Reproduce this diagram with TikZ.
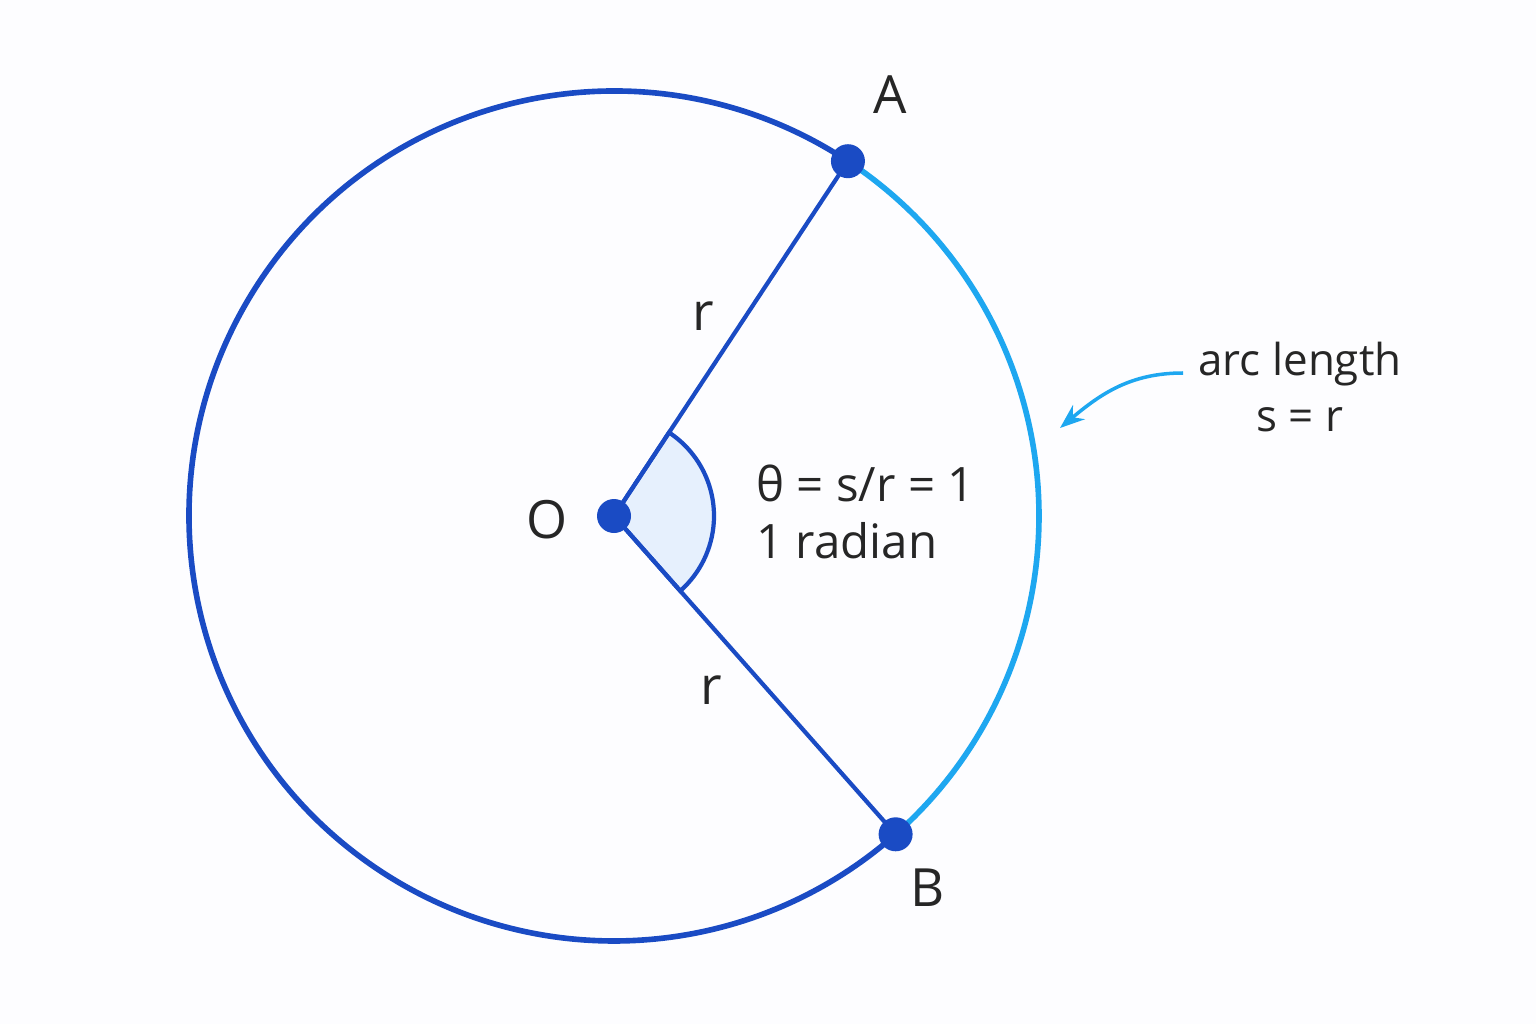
\documentclass[tikz,border=0pt]{standalone}
\usepackage{fontspec}
\setmainfont{Open Sans}
\usetikzlibrary{arrows.meta,calc}
\definecolor{darkblue}{HTML}{1A4BC4}
\definecolor{skyblue}{HTML}{1EA7F0}
\definecolor{wedgefill}{HTML}{E6F0FD}
\tikzset{
  pt/.style = {circle, fill=darkblue, inner sep=0pt, minimum size=0.34cm},
  lbl/.style = {font=\fontsize{15}{18}\selectfont, text=black!85},
  note/.style = {font=\fontsize{12.5}{16}\selectfont, text=black!85, align=center}
}
\begin{document}
\begin{tikzpicture}
\useasboundingbox (0,0) rectangle (15.36,10.24);
\fill[white!97!blue!30!white] (0,0) rectangle (15.36,10.24);
% Place points
\coordinate (center) at (6.14,5.08);
\coordinate (pa) at ($(center)+(56.6:4.25)$);
\coordinate (pb) at ($(center)+(-48.5:4.25)$);
% Draw circle and arc
\draw[darkblue, line width=1.6pt] (pa) arc[start angle=56.6, end angle=311.5, radius=4.25];
\draw[skyblue, line width=1.6pt] (pa) arc[start angle=56.6, end angle=-48.5, radius=4.25];
% Draw wedge and radii
\filldraw[fill=wedgefill, draw=darkblue, line width=1.2pt] (center) -- ($(center)+(56.6:1)$) arc[start angle=56.6, end angle=-48.5, radius=1] -- cycle;
\draw[darkblue, line width=1.2pt] (center) -- (pa);
\draw[darkblue, line width=1.2pt] (center) -- (pb);
\node[pt] (O) at (center) {};
\node[pt] (A) at (pa) {};
\node[pt] (B) at (pb) {};
% Labels
\node[lbl] at (8.90,9.29) {A};
\node[lbl] at (9.28,1.36) {B};
\node[lbl] at (5.47,5.04) {O};
\node[lbl] at (7.03,7.08) {r};
\node[lbl] at (7.11,3.34) {r};
\node[note, anchor=west, align=left, font=\fontsize{13.5}{16}\selectfont] (theta) at (7.44,5.12) {θ = s/r = 1\\1 radian};
\node[note] (arcnote) at (13.0,6.37) {arc length\\s = r};
\coordinate (arctip) at (10.60,5.96);
\draw[skyblue, line width=1pt, -{Stealth[length=7pt]}] (11.83,6.51) to[out=180, in=40] (arctip);
\end{tikzpicture}
\end{document}
